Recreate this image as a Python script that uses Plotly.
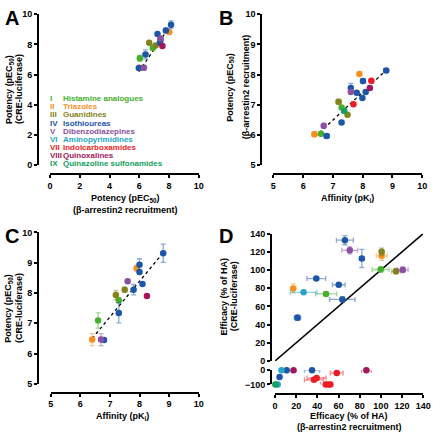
import plotly.graph_objects as go

W, H = 440, 438

# ---------------- data ----------------
class_names = ["Histamine analogues", "Triazoles", "Guanidines", "Isothioureas",
               "Dibenzodiazepines", "Aminopyrimidines", "Indolcarboxamides",
               "Quinoxalines", "Quinazoline sulfonamides"]
class_numerals = ["I", "II", "III", "IV", "V", "VI", "VII", "VIII", "IX"]
class_colors = ["#45b02c", "#f7901e", "#84821c", "#1c56a6", "#8a4fa2",
                "#25a6c6", "#ec1c24", "#a0185a", "#14a05e"]

# Panel A: potency beta-arrestin2 (x) vs potency CRE (y)
a_x = [8.14, 7.79, 8.02, 7.23, 7.43, 7.43, 7.40, 6.67, 7.10, 7.56, 6.91, 6.42, 6.04, 6.03, 6.31, 5.97]
a_y = [9.31, 8.93, 8.82, 8.69, 8.39, 8.30, 8.11, 8.11, 7.93, 7.90, 7.76, 7.34, 7.09, 6.46, 6.46, 6.45]
a_xerr = [0.05, 0.05, 0.05, 0.03, 0.05, 0.05, 0.05, 0.05, 0.08, 0.05, 0.05, 0.05, 0.05, 0.08, 0.05, 0.06]
a_yerr = [0.25, 0.15, 0.1, 0.05, 0.05, 0.05, 0.15, 0.05, 0.12, 0.05, 0.1, 0.3, 0.2, 0.15, 0.15, 0.05]
a_cls = [3, 3, 1, 3, 4, 3, 3, 2, 2, 7, 0, 3, 0, 1, 4, 3]
a_fit_x = [5.97, 8.16]
a_fit_y = [6.20, 9.35]

# Panel B: affinity (x) vs potency beta-arrestin2 (y)
b_x = [8.79, 7.89, 8.01, 8.29, 7.60, 8.24, 7.60, 7.80, 8.10, 7.99, 7.19, 7.69, 7.29, 7.38, 7.49, 7.29, 6.69, 6.38, 6.60, 6.79]
b_y = [8.14, 8.02, 7.79, 7.80, 7.56, 7.56, 7.43, 7.40, 7.43, 7.23, 7.10, 7.02, 6.91, 6.80, 6.67, 6.42, 6.31, 6.03, 6.04, 5.97]
b_xerr = [0.08, 0.03, 0.05, 0.03, 0.05, 0.05, 0.03, 0.03, 0.03, 0.03, 0.08, 0.03, 0.05, 0.05, 0.03, 0.03, 0.05, 0.08, 0.05, 0.08]
b_yerr = [0.06, 0.03, 0.08, 0.03, 0.15, 0.03, 0.05, 0.03, 0.03, 0.03, 0.08, 0.03, 0.03, 0.03, 0.03, 0.03, 0.08, 0.08, 0.03, 0.06]
b_cls = [3, 1, 3, 6, 3, 7, 4, 3, 3, 3, 2, 6, 0, 8, 2, 3, 4, 1, 0, 3]
b_fit_x = [6.40, 8.80]
b_fit_y = [5.94, 8.16]

# Panel C: affinity (x) vs potency CRE (y)
c_x = [8.80, 8.00, 7.90, 8.00, 7.60, 8.10, 7.80, 7.50, 7.20, 8.25, 7.30, 7.30, 6.60, 6.40, 6.70, 6.80]
c_y = [9.31, 8.93, 8.82, 8.69, 8.39, 8.30, 8.11, 8.11, 7.93, 7.90, 7.76, 7.34, 7.09, 6.46, 6.46, 6.45]
c_xerr = [0.05, 0.03, 0.05, 0.03, 0.03, 0.03, 0.03, 0.05, 0.05, 0.03, 0.03, 0.03, 0.03, 0.05, 0.08, 0.03]
c_yerr = [0.30, 0.20, 0.10, 0.05, 0.05, 0.05, 0.17, 0.08, 0.15, 0.03, 0.08, 0.33, 0.25, 0.20, 0.20, 0.03]
c_cls = [3, 3, 1, 3, 4, 3, 3, 2, 2, 7, 0, 3, 0, 1, 4, 3]
c_fit_x = [6.40, 8.80]
c_fit_y = [6.50, 9.33]

# Panel D (upper part): efficacy beta-arrestin2 (x) vs efficacy CRE (y)
d_x = [66.0, 70.6, 82.0, 100.7, 100.7, 99.8, 114.2, 120.7, 39.0, 60.2, 17.2, 27.0, 48.2, 63.6, 21.2]
d_y = [132.8, 121.7, 112.8, 120.0, 115.6, 100.6, 98.8, 100.2, 90.6, 83.8, 79.8, 75.5, 73.7, 67.7, 47.6]
d_xerr = [8.0, 7.5, 2.0, 2.0, 5.0, 8.0, 4.0, 5.0, 8.8, 6.0, 2.0, 12.7, 10.0, 12.0, 3.0]
d_yerr = [5.0, 4.0, 10.0, 4.0, 5.0, 3.0, 3.0, 3.0, 2.0, 2.0, 5.0, 2.0, 2.0, 3.0, 3.0]
d_cls = [3, 4, 3, 2, 1, 0, 2, 4, 3, 3, 1, 5, 0, 3, 3]
# Panel D (lower part, broken axis): inverse agonists / neutral
e_x = [6.1, 11.0, 17.5, 35.0, 86.3, 58.3, 4.3, 39.3, 36.8, 48.0, 50.5, 52.3, 0.3, 2.5]
e_y = [0, 0, 0, 0, 0, -20, -48, -55, -68, -100, -100, -100, -100, -100]
e_xerr = [0.5, 0.5, 2.0, 7.2, 4.6, 6.0, 0.5, 9.0, 9.0, 5.0, 1.0, 1.0, 0.5, 0.5]
e_cls = [5, 3, 7, 3, 7, 6, 3, 6, 6, 6, 6, 6, 8, 5]
d_identity = [0, 140]

# ---------------- helpers ----------------
def rgba(hexc, a):
    h = hexc.lstrip("#")
    r, g, b = int(h[0:2], 16), int(h[2:4], 16), int(h[4:6], 16)
    return f"rgba({r},{g},{b},{a})"

def px_x(p):
    return p / W

def px_y(p):
    return 1 - p / H

FONT = "Liberation Sans, Arial, sans-serif"
fig = go.Figure()

def add_points(xs, ys, xerr, yerr, cls, xa, ya):
    for k in sorted(set(cls)):
        idx = [i for i, c in enumerate(cls) if c == k]
        col = class_colors[k]
        ex = dict(type="data", array=[xerr[i] for i in idx], color=rgba(col, 0.5),
                  thickness=1.3, width=2.5) if xerr is not None else None
        ey = dict(type="data", array=[yerr[i] for i in idx], color=rgba(col, 0.5),
                  thickness=1.3, width=2.5) if yerr is not None else None
        fig.add_trace(go.Scatter(
            x=[xs[i] for i in idx], y=[ys[i] for i in idx], mode="markers",
            marker=dict(size=6.5, color=col, line=dict(width=0)),
            error_x=ex, error_y=ey, xaxis=xa, yaxis=ya, cliponaxis=False,
            showlegend=False, hoverinfo="skip"))

def add_line(xs, ys, xa, ya, dash, width):
    fig.add_trace(go.Scatter(x=xs, y=ys, mode="lines",
                             line=dict(color="black", width=width, dash=dash),
                             xaxis=xa, yaxis=ya, showlegend=False, hoverinfo="skip",
                             cliponaxis=False))

add_line(a_fit_x, a_fit_y, "x", "y", "dot", 1.3)
add_points(a_x, a_y, a_xerr, a_yerr, a_cls, "x", "y")
add_line(b_fit_x, b_fit_y, "x2", "y2", "dot", 1.3)
add_points(b_x, b_y, b_xerr, b_yerr, b_cls, "x2", "y2")
add_line(c_fit_x, c_fit_y, "x3", "y3", "dot", 1.3)
add_points(c_x, c_y, c_xerr, c_yerr, c_cls, "x3", "y3")
add_line(d_identity, d_identity, "x4", "y4", "solid", 1.5)
add_points(d_x, d_y, d_xerr, d_yerr, d_cls, "x4", "y4")
add_points(e_x, e_y, e_xerr, None, e_cls, "x4", "y5")

tickfont = dict(family=FONT, size=9, color="black", weight="bold")
base = dict(showline=True, linecolor="black", linewidth=2, ticks="outside",
            ticklen=3, tickwidth=2, tickcolor="black", showgrid=False,
            zeroline=False, tickfont=tickfont, anchor="free", fixedrange=True)

def xax(d0, d1, pos, rng, dt):
    return dict(base, domain=[px_x(d0), px_x(d1)], position=px_y(pos),
                range=rng, dtick=dt, tick0=rng[0])

def yax(d_bot, d_top, pos, rng, dt):
    return dict(base, domain=[px_y(d_bot), px_y(d_top)], position=px_x(pos),
                range=rng, dtick=dt, tick0=rng[0])

fig.update_layout(
    width=W, height=H, margin=dict(l=0, r=0, t=0, b=0),
    paper_bgcolor="white", plot_bgcolor="white", showlegend=False,
    xaxis=xax(48.3, 200.7, 173, [0, 10], 2),
    yaxis=yax(164, 9.5, 36, [0, 10], 2),
    xaxis2=xax(277.3, 430, 173, [5, 10], 1),
    yaxis2=yax(164, 9.5, 265, [5, 10], 1),
    xaxis3=xax(49, 200.7, 396.7, [5, 10], 1),
    yaxis3=yax(387.7, 232.7, 36, [5, 10], 1),
    xaxis4=xax(279, 431, 398.3, [0, 140], 20),
    yaxis4=yax(364.3, 234, 275, [0, 140], 20),
    yaxis5=yax(388.3, 373.7, 275, [-100, 0], 100),
)

ann = []
def text(x, y, s, size=9, angle=0, xanchor="center", yanchor="middle", color="black"):
    ann.append(dict(x=px_x(x), y=px_y(y), xref="paper", yref="paper", text=s,
                    showarrow=False, textangle=angle, xanchor=xanchor, yanchor=yanchor,
                    borderpad=0,
                    font=dict(family=FONT, size=size, color=color, weight="bold")))

# panel letters
text(1, 1, "A", size=20, xanchor="left", yanchor="top")
text(221, 1, "B", size=20, xanchor="left", yanchor="top")
text(1, 224, "C", size=20, xanchor="left", yanchor="top")
text(221, 224, "D", size=20, xanchor="left", yanchor="top")

# axis titles panel A
text(126, 198, "Potency (pEC<sub>50</sub>)")
text(126, 210, "(β-arrestin2 recruitment)")
text(6, 86, "Potency (pEC<sub>50</sub>)", angle=-90)
text(16.5, 86, "(CRE-luciferase)", angle=-90)
# panel B
text(353, 198, "Affinity (pK<sub>i</sub>)")
text(232.5, 84, "Potency (pEC<sub>50</sub>)", angle=-90)
text(249.5, 84, "(β-arrestin2 recruitment)", angle=-90)
# panel C
text(123, 421, "Affinity (pK<sub>i</sub>)")
text(6, 310, "Potency (pEC<sub>50</sub>)", angle=-90)
text(16.5, 310, "(CRE-luciferase)", angle=-90)
# panel D
text(355, 421, "Efficacy (% of HA)")
text(355, 432, "(β-arrestin2 recruitment)")
text(227, 298, "Efficacy (% of HA)", angle=-90)
text(237, 298, "(CRE-luciferase)", angle=-90)

# legend in panel A
for i, (num, name) in enumerate(zip(class_numerals, class_names)):
    yy = 95.7 + i * 8.37
    text(47.5, yy, num, size=8, xanchor="left", color=class_colors[i])
    text(61, yy, name, size=8, xanchor="left", color=class_colors[i])

fig.update_layout(annotations=ann)
fig.write_html(
    "out.html",
    config={"displayModeBar": False, "staticPlot": False},
    post_script="document.body.style.margin='0';document.body.style.padding='0';"
                "document.body.style.overflow='hidden';",
)
